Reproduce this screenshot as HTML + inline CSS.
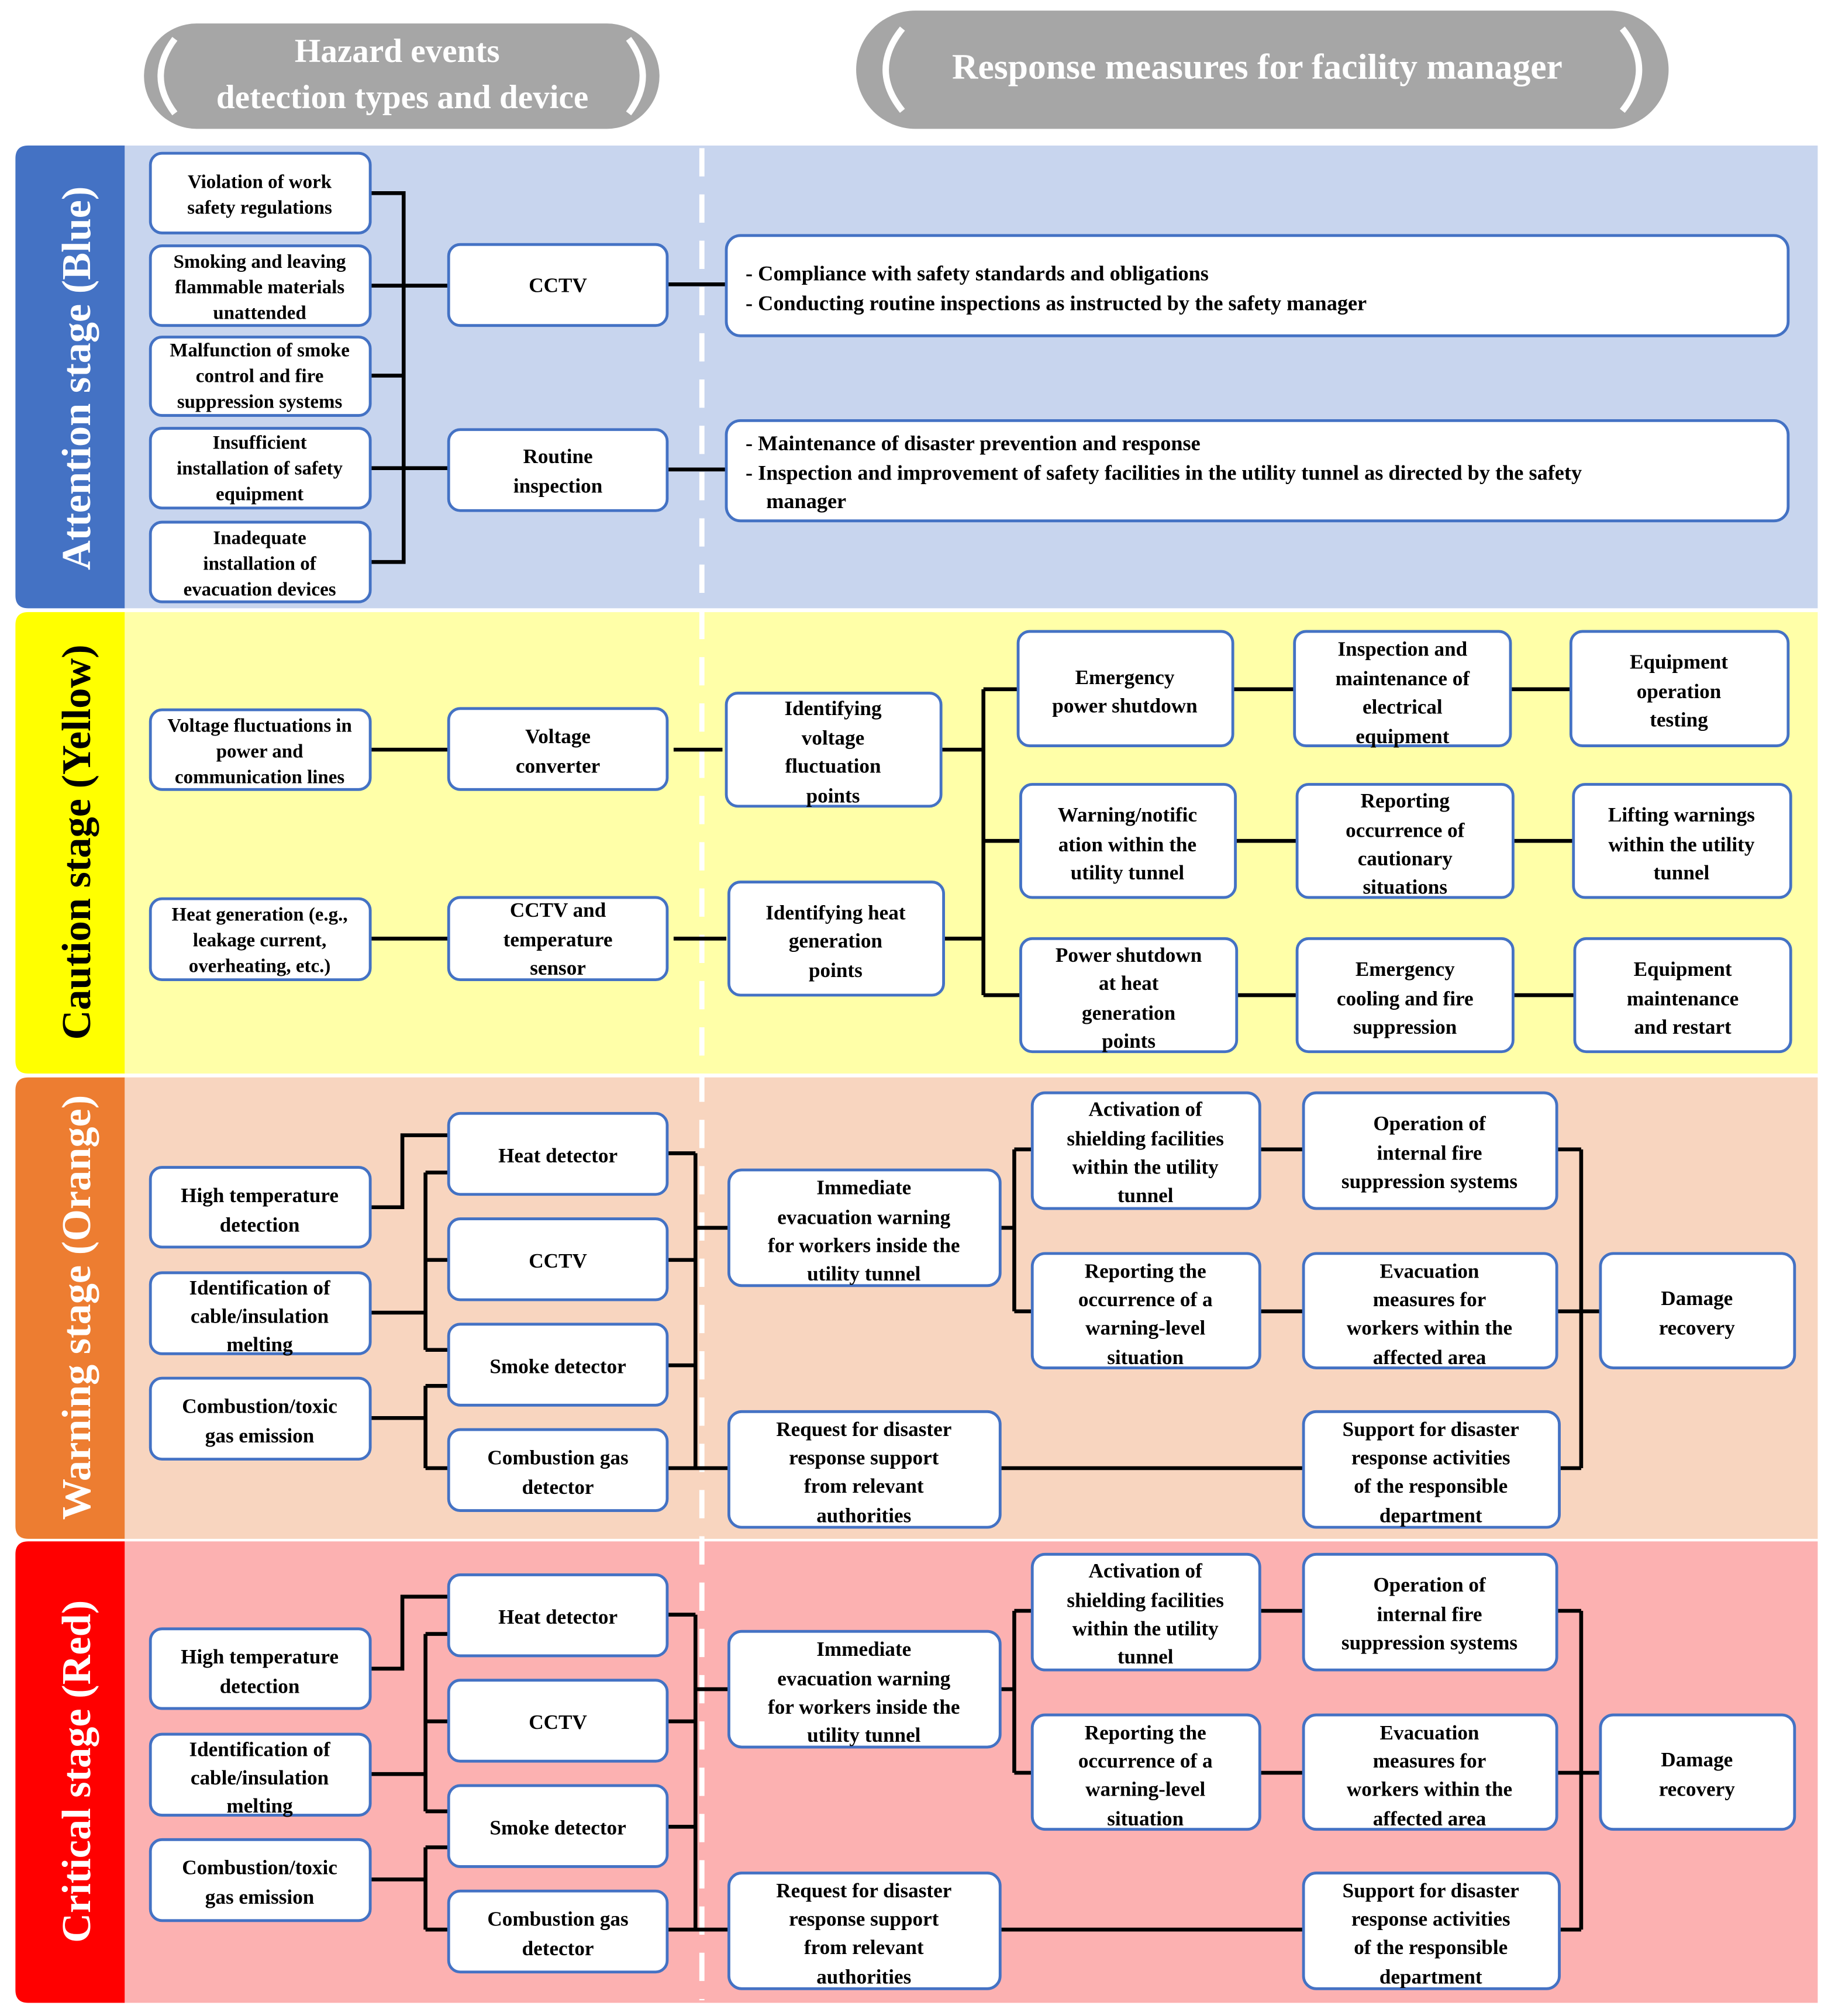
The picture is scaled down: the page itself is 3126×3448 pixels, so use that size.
<!DOCTYPE html>
<html><head><meta charset="utf-8"><style>
html,body{margin:0;padding:0;background:#fff;}
svg{display:block;}
.b{fill:#fff;stroke:#4472c4;stroke-width:2.2;}
.t{font-family:"Liberation Serif",serif;font-weight:bold;font-size:16px;fill:#000;text-anchor:middle;}
.s{font-size:15px;}
.l{font-family:"Liberation Serif",serif;font-weight:bold;font-size:16.5px;fill:#000;}
.c{stroke:#000;stroke-width:3;fill:none;}
.st{font-family:"Liberation Serif",serif;font-weight:bold;font-size:32px;text-anchor:middle;}
.h{font-family:"Liberation Serif",serif;font-weight:bold;fill:#fff;text-anchor:middle;}
</style></head><body>
<svg width="3126" height="3448" viewBox="0 0 1422 1568" xmlns="http://www.w3.org/2000/svg">
<rect width="1422" height="1568" fill="#fff"/>
<!-- headers -->
<rect x="112" y="18" width="401" height="82" rx="41" fill="#a6a6a6"/>
<path d="M136 30 Q114 59 136 88" stroke="#fff" stroke-width="5" fill="none"/>
<path d="M489 30 Q511 59 489 88" stroke="#fff" stroke-width="5" fill="none"/>
<text class="h" x="309" y="48" font-size="26">Hazard events</text>
<text class="h" x="313" y="84" font-size="26">detection types and device</text>
<rect x="666" y="8" width="632" height="92" rx="46" fill="#a6a6a6"/>
<path d="M702 22 Q676 54 702 86" stroke="#fff" stroke-width="5" fill="none"/>
<path d="M1262 22 Q1288 54 1262 86" stroke="#fff" stroke-width="5" fill="none"/>
<text class="h" x="978" y="61" font-size="28">Response measures for facility manager</text>

<!-- bands -->
<rect x="97" y="113" width="1317" height="360" fill="#c8d5ee"/>
<rect x="97" y="476" width="1317" height="359" fill="#ffffa8"/>
<rect x="97" y="838" width="1317" height="359" fill="#f8d5bf"/>
<rect x="97" y="1199" width="1317" height="359" fill="#fcb1b1"/>
<path d="M22 113 H97 V473 H22 Q12 473 12 463 V123 Q12 113 22 113Z" fill="#4472c4"/>
<path d="M22 476 H97 V835 H22 Q12 835 12 825 V486 Q12 476 22 476Z" fill="#ffff00"/>
<path d="M22 838 H97 V1197 H22 Q12 1197 12 1187 V848 Q12 838 22 838Z" fill="#ed7d31"/>
<path d="M22 1199 H97 V1558 H22 Q12 1558 12 1548 V1209 Q12 1199 22 1199Z" fill="#ff0000"/>
<text class="st" fill="#fff" transform="translate(70,294) rotate(-90)">Attention stage (Blue)</text>
<text class="st" fill="#000" transform="translate(70,655) rotate(-90)">Caution stage (Yellow)</text>
<text class="st" fill="#fff" transform="translate(70,1017) rotate(-90)">Warning stage (Orange)</text>
<text class="st" fill="#fff" transform="translate(70,1378) rotate(-90)">Critical stage (Red)</text>
<line x1="546" y1="115" x2="546" y2="1556" stroke="#fff" stroke-width="4" stroke-dasharray="22,14"/>

<!-- BLUE -->
<path class="c" d="M288 150 H314 V437 H288 M288 222 H349 M288 292 H314 M288 364 H349 M519 221 H565 M519 365 H565"/>
<rect class="b" x="117" y="119" width="171" height="62" rx="9"/>
<text class="t s" x="202"><tspan x="202" y="146">Violation of work</tspan><tspan x="202" y="166">safety regulations</tspan></text>
<rect class="b" x="117" y="191" width="171" height="62" rx="9"/>
<text class="t s"><tspan x="202" y="208">Smoking and leaving</tspan><tspan x="202" y="228">flammable materials</tspan><tspan x="202" y="248">unattended</tspan></text>
<rect class="b" x="117" y="262" width="171" height="61" rx="9"/>
<text class="t s"><tspan x="202" y="277">Malfunction of smoke</tspan><tspan x="202" y="297">control and fire</tspan><tspan x="202" y="317">suppression systems</tspan></text>
<rect class="b" x="117" y="333" width="171" height="62" rx="9"/>
<text class="t s"><tspan x="202" y="349">Insufficient</tspan><tspan x="202" y="369">installation of safety</tspan><tspan x="202" y="389">equipment</tspan></text>
<rect class="b" x="117" y="406" width="171" height="62" rx="9"/>
<text class="t s"><tspan x="202" y="423">Inadequate</tspan><tspan x="202" y="443">installation of</tspan><tspan x="202" y="463">evacuation devices</tspan></text>
<rect class="b" x="349" y="190" width="170" height="63" rx="9"/>
<text class="t" x="434" y="227">CCTV</text>
<rect class="b" x="349" y="334" width="170" height="63" rx="9"/>
<text class="t"><tspan x="434" y="360">Routine</tspan><tspan x="434" y="383">inspection</tspan></text>
<rect class="b" x="565" y="183" width="826" height="78" rx="11"/>
<text class="l"><tspan x="580" y="218">- Compliance with safety standards and obligations</tspan><tspan x="580" y="241">- Conducting routine inspections as instructed by the safety manager</tspan></text>
<rect class="b" x="565" y="327" width="826" height="78" rx="11"/>
<text class="l"><tspan x="580" y="350">- Maintenance of disaster prevention and response</tspan><tspan x="580" y="373">- Inspection and improvement of safety facilities in the utility tunnel as directed by the safety</tspan><tspan x="596" y="395">manager</tspan></text>

<!-- YELLOW -->
<path class="c" d="M288 583 H349 M288 730 H349 M524 583 H562 M524 730 H565 M732 583 H765 M734 730 H765 M765 536 V774 M765 536 H792 M765 654 H794 M765 774 H794 M959 536 H1007 M961 654 H1009 M962 774 H1009 M1175 536 H1222 M1177 654 H1224 M1177 774 H1225"/>
<rect class="b" x="117" y="552" width="171" height="62" rx="9"/>
<text class="t s"><tspan x="202" y="569">Voltage fluctuations in</tspan><tspan x="202" y="589">power and</tspan><tspan x="202" y="609">communication lines</tspan></text>
<rect class="b" x="117" y="699" width="171" height="63" rx="9"/>
<text class="t s"><tspan x="202" y="716">Heat generation (e.g.,</tspan><tspan x="202" y="736">leakage current,</tspan><tspan x="202" y="756">overheating, etc.)</tspan></text>
<rect class="b" x="349" y="551" width="170" height="63" rx="9"/>
<text class="t"><tspan x="434" y="578">Voltage</tspan><tspan x="434" y="601">converter</tspan></text>
<rect class="b" x="349" y="698" width="170" height="64" rx="9"/>
<text class="t"><tspan x="434" y="713">CCTV and</tspan><tspan x="434" y="736">temperature</tspan><tspan x="434" y="758">sensor</tspan></text>
<rect class="b" x="565" y="539" width="167" height="88" rx="9"/>
<text class="t"><tspan x="648" y="556">Identifying</tspan><tspan x="648" y="579">voltage</tspan><tspan x="648" y="601">fluctuation</tspan><tspan x="648" y="624">points</tspan></text>
<rect class="b" x="567" y="686" width="167" height="88" rx="9"/>
<text class="t"><tspan x="650" y="715">Identifying heat</tspan><tspan x="650" y="737">generation</tspan><tspan x="650" y="760">points</tspan></text>
<rect class="b" x="792" y="491" width="167" height="89" rx="9"/>
<text class="t"><tspan x="875" y="532">Emergency</tspan><tspan x="875" y="554">power shutdown</tspan></text>
<rect class="b" x="1007" y="491" width="168" height="89" rx="9"/>
<text class="t"><tspan x="1091" y="510">Inspection and</tspan><tspan x="1091" y="533">maintenance of</tspan><tspan x="1091" y="555">electrical</tspan><tspan x="1091" y="578">equipment</tspan></text>
<rect class="b" x="1222" y="491" width="169" height="89" rx="9"/>
<text class="t"><tspan x="1306" y="520">Equipment</tspan><tspan x="1306" y="543">operation</tspan><tspan x="1306" y="565">testing</tspan></text>
<rect class="b" x="794" y="610" width="167" height="88" rx="9"/>
<text class="t"><tspan x="877" y="639">Warning/notific</tspan><tspan x="877" y="662">ation within the</tspan><tspan x="877" y="684">utility tunnel</tspan></text>
<rect class="b" x="1009" y="610" width="168" height="88" rx="9"/>
<text class="t"><tspan x="1093" y="628">Reporting</tspan><tspan x="1093" y="651">occurrence of</tspan><tspan x="1093" y="673">cautionary</tspan><tspan x="1093" y="695">situations</tspan></text>
<rect class="b" x="1224" y="610" width="169" height="88" rx="9"/>
<text class="t"><tspan x="1308" y="639">Lifting warnings</tspan><tspan x="1308" y="662">within the utility</tspan><tspan x="1308" y="684">tunnel</tspan></text>
<rect class="b" x="794" y="730" width="168" height="88" rx="9"/>
<text class="t"><tspan x="878" y="748">Power shutdown</tspan><tspan x="878" y="770">at heat</tspan><tspan x="878" y="793">generation</tspan><tspan x="878" y="815">points</tspan></text>
<rect class="b" x="1009" y="730" width="168" height="88" rx="9"/>
<text class="t"><tspan x="1093" y="759">Emergency</tspan><tspan x="1093" y="782">cooling and fire</tspan><tspan x="1093" y="804">suppression</tspan></text>
<rect class="b" x="1225" y="730" width="168" height="88" rx="9"/>
<text class="t"><tspan x="1309" y="759">Equipment</tspan><tspan x="1309" y="782">maintenance</tspan><tspan x="1309" y="804">and restart</tspan></text>

<!-- ORANGE -->
<g id="warn">
<path class="c" d="M288 939 H313 V883 H349 M288 1021 H331 M331 912 V1050 M331 912 H349 M331 980 H349 M331 1050 H349 M288 1103 H331 M331 1078 V1142 M331 1078 H349 M331 1142 H349 M519 897 H541 M519 980 H541 M519 1062 H541 M519 1142 H541 M541 897 V1142 M541 955 H567 M541 1142 H567 M778 955 H789 M789 894 V1020 M789 894 H803 M789 1020 H803 M980 894 H1014 M980 1020 H1014 M778 1142 H1014 M1211 894 H1230 M1211 1020 H1245 M1213 1142 H1230 M1230 894 V1142"/>
<rect class="b" x="117" y="908" width="171" height="62" rx="9"/>
<text class="t"><tspan x="202" y="935">High temperature</tspan><tspan x="202" y="958">detection</tspan></text>
<rect class="b" x="117" y="990" width="171" height="63" rx="9"/>
<text class="t"><tspan x="202" y="1007">Identification of</tspan><tspan x="202" y="1029">cable/insulation</tspan><tspan x="202" y="1051">melting</tspan></text>
<rect class="b" x="117" y="1072" width="171" height="63" rx="9"/>
<text class="t"><tspan x="202" y="1099">Combustion/toxic</tspan><tspan x="202" y="1122">gas emission</tspan></text>
<rect class="b" x="349" y="866" width="170" height="63" rx="9"/>
<text class="t" x="434" y="904">Heat detector</text>
<rect class="b" x="349" y="948" width="170" height="63" rx="9"/>
<text class="t" x="434" y="986">CCTV</text>
<rect class="b" x="349" y="1030" width="170" height="63" rx="9"/>
<text class="t" x="434" y="1068">Smoke detector</text>
<rect class="b" x="349" y="1112" width="170" height="63" rx="9"/>
<text class="t"><tspan x="434" y="1139">Combustion gas</tspan><tspan x="434" y="1162">detector</tspan></text>
<rect class="b" x="567" y="910" width="211" height="90" rx="10"/>
<text class="t"><tspan x="672" y="929">Immediate</tspan><tspan x="672" y="952">evacuation warning</tspan><tspan x="672" y="974">for workers inside the</tspan><tspan x="672" y="996">utility tunnel</tspan></text>
<rect class="b" x="567" y="1098" width="211" height="90" rx="10"/>
<text class="t"><tspan x="672" y="1117">Request for disaster</tspan><tspan x="672" y="1139">response support</tspan><tspan x="672" y="1161">from relevant</tspan><tspan x="672" y="1184">authorities</tspan></text>
<rect class="b" x="803" y="850" width="177" height="90" rx="10"/>
<text class="t"><tspan x="891" y="868">Activation of</tspan><tspan x="891" y="891">shielding facilities</tspan><tspan x="891" y="913">within the utility</tspan><tspan x="891" y="935">tunnel</tspan></text>
<rect class="b" x="803" y="975" width="177" height="89" rx="10"/>
<text class="t"><tspan x="891" y="994">Reporting the</tspan><tspan x="891" y="1016">occurrence of a</tspan><tspan x="891" y="1038">warning-level</tspan><tspan x="891" y="1061">situation</tspan></text>
<rect class="b" x="1014" y="850" width="197" height="90" rx="10"/>
<text class="t"><tspan x="1112" y="879">Operation of</tspan><tspan x="1112" y="902">internal fire</tspan><tspan x="1112" y="924">suppression systems</tspan></text>
<rect class="b" x="1014" y="975" width="197" height="89" rx="10"/>
<text class="t"><tspan x="1112" y="994">Evacuation</tspan><tspan x="1112" y="1016">measures for</tspan><tspan x="1112" y="1038">workers within the</tspan><tspan x="1112" y="1061">affected area</tspan></text>
<rect class="b" x="1014" y="1098" width="199" height="90" rx="10"/>
<text class="t"><tspan x="1113" y="1117">Support for disaster</tspan><tspan x="1113" y="1139">response activities</tspan><tspan x="1113" y="1161">of the responsible</tspan><tspan x="1113" y="1184">department</tspan></text>
<rect class="b" x="1245" y="975" width="151" height="89" rx="10"/>
<text class="t"><tspan x="1320" y="1015">Damage</tspan><tspan x="1320" y="1038">recovery</tspan></text>
</g>
<!-- RED -->
<use href="#warn" transform="translate(0,359)"/>
</svg>
</body></html>
